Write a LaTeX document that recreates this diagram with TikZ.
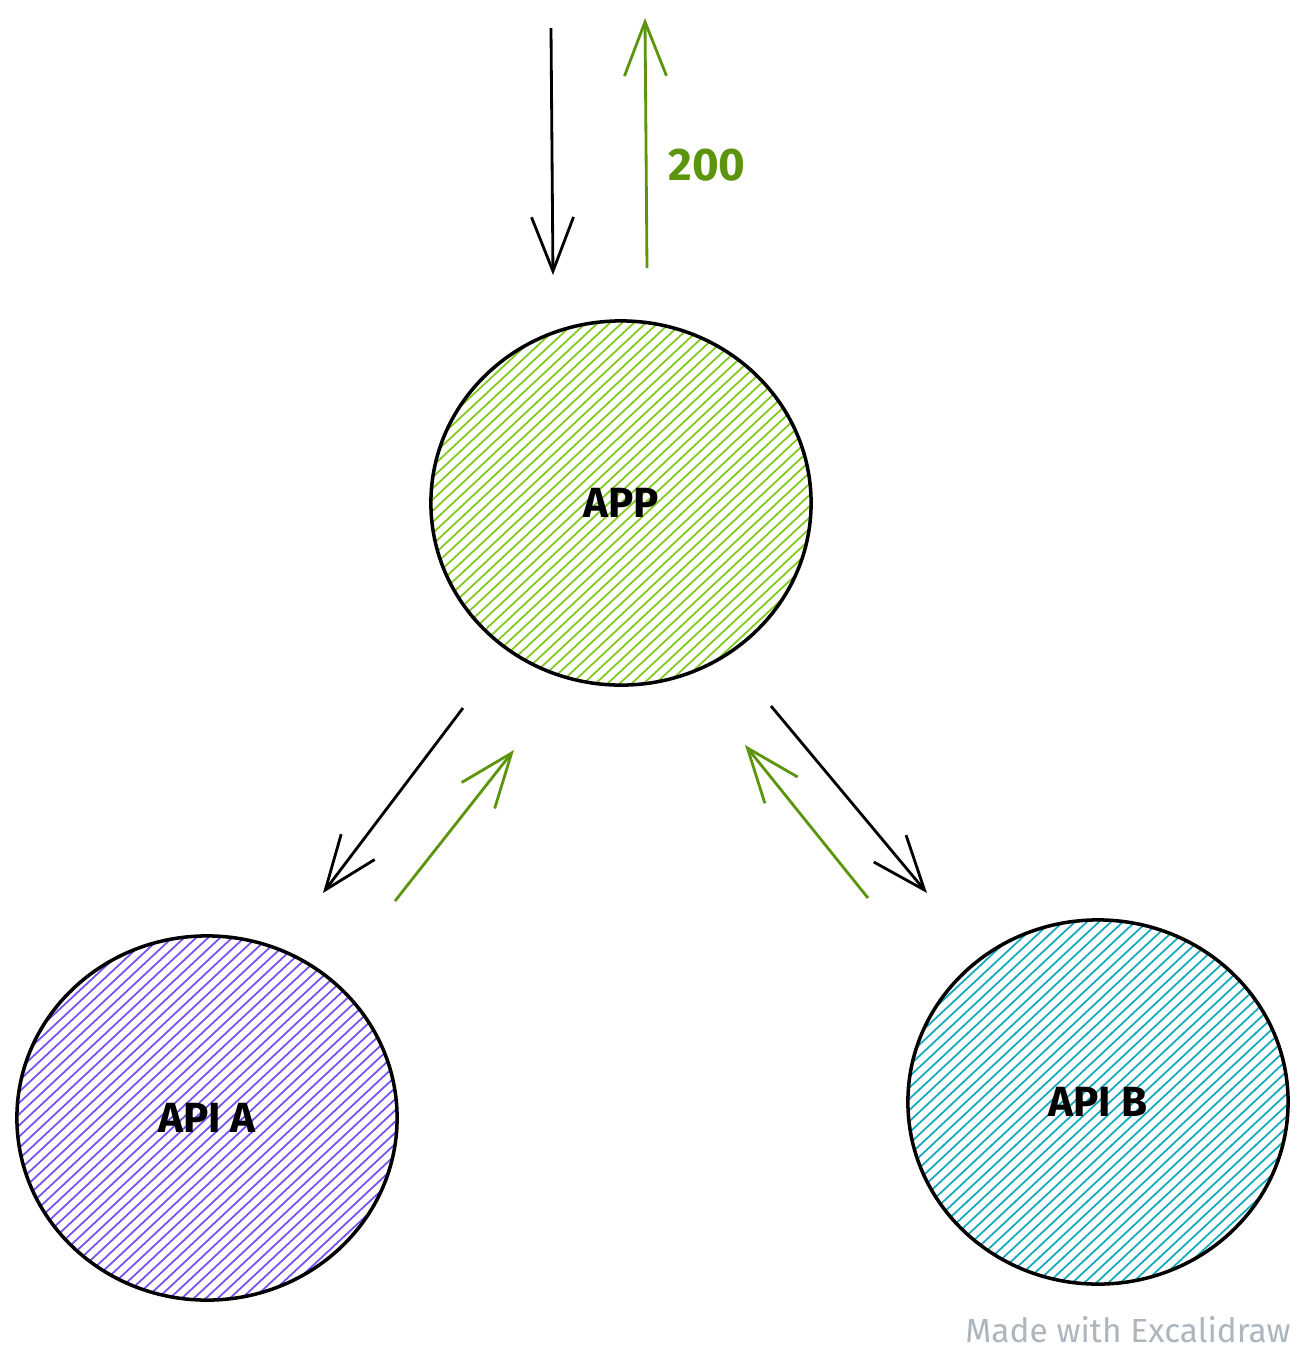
\documentclass[tikz,border=0pt]{standalone}
\usepackage{fontspec}
\setmainfont{Fira Sans}
\usetikzlibrary{arrows.meta,shapes.geometric,calc}
\definecolor{appgreen}{HTML}{82C91E}
\definecolor{apiviolet}{HTML}{7950F2}
\definecolor{apicyan}{HTML}{15AABF}
\definecolor{okgreen}{HTML}{5C940D}
\definecolor{wmgray}{HTML}{ADB5BD}
\tikzset{
  hatched/.style={
    path picture={
      \foreach \i in {-42,...,42}
        \draw[#1, line width=0.5pt]
          ($(path picture bounding box.center)+(\i*12-300,280)$) -- ++(600,-560);
    }
  },
  bubble/.style={ellipse, draw=black, line width=1pt,
    minimum width=3.8cm, minimum height=3.64cm, inner sep=0pt,
    font=\fontsize{12}{14}\selectfont\bfseries, hatched=#1},
  req/.style={draw=black, line width=0.8pt,
    -{Straight Barb[length=0.54cm, width=0.42cm, line width=0.8pt]}},
  resp/.style={draw=okgreen, line width=0.8pt,
    -{Straight Barb[length=0.54cm, width=0.42cm, line width=0.8pt]}},
}
\begin{document}
\begin{tikzpicture}[x=0.01cm, y=-0.01cm]
\useasboundingbox[fill=white] (0,0) rectangle (1306,1350);

% nodes
\node[bubble=appgreen]  (app)  at (621,503)  {APP};
\node[bubble=apiviolet] (apia) at (207,1118) {API A};
\node[bubble=apicyan]   (apib) at (1098,1102) {API B};

% arrow end points
\coordinate (inS)  at (551,28);
\coordinate (inE)  at (553,275);
\coordinate (outS) at (647,268);
\coordinate (outE) at (645,18);
\coordinate (aS)   at (463,708);
\coordinate (aE)   at (323,893);
\coordinate (arS)  at (395,901);
\coordinate (arE)  at (514,750);
\coordinate (bS)   at (771,706);
\coordinate (bE)   at (927,893);
\coordinate (brS)  at (868,898);
\coordinate (brE)  at (745,745);

% connectors
\draw[req]  (inS) -- (inE);
\draw[resp] (outS) -- (outE);
\draw[req]  (aS) -- (aE);
\draw[resp] (arS) -- (arE);
\draw[req]  (bS) -- (bE);
\draw[resp] (brS) -- (brE);

% labels
\node[text=okgreen, font=\fontsize{13}{15}\selectfont\bfseries] (lbl200) at (707,165) {200};
\node[text=wmgray, font=\fontsize{9.5}{11}\selectfont] (wm) at (1128,1330) {Made with Excalidraw};
\end{tikzpicture}
\end{document}
